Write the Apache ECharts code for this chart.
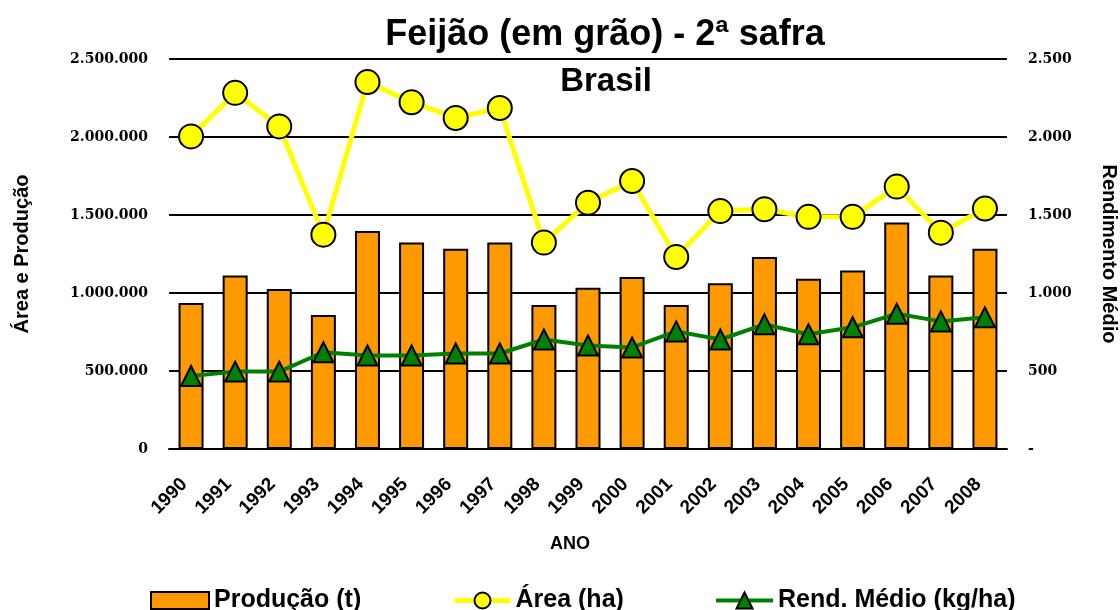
<!DOCTYPE html>
<html>
<head>
<meta charset="utf-8">
<script src="https://cdn.jsdelivr.net/npm/echarts@6/dist/echarts.min.js"></script>
<style>
  html, body { margin: 0; padding: 0; background: #fff; }
  #chart { width: 1120px; height: 610px; }
</style>
</head>
<body>
<div id="chart"></div>
<script>
// dados
var anos = ["1990", "1991", "1992", "1993", "1994", "1995", "1996", "1997", "1998", "1999",
  "2000", "2001", "2002", "2003", "2004", "2005", "2006", "2007", "2008"];
var producao = [936000, 1112000, 1026000, 859000, 1398000, 1323000, 1284000, 1323000, 923000, 1033000,
  1102000, 923000, 1063000, 1231000, 1091000, 1144000, 1452000, 1112000, 1284000];
var area = [2004000, 2283000, 2068000, 1374000, 2352000, 2223000, 2122000, 2186000, 1323000, 1579000,
  1718000, 1231000, 1525000, 1537000, 1488000, 1488000, 1682000, 1387000, 1542000];
var rendimento = [468, 496, 496, 620, 599, 599, 612, 612, 702, 663,
  651, 754, 702, 799, 736, 780, 867, 818, 844];

var fonte = "Liberation Sans, Arial, sans-serif";
var fonteNum = "DejaVu Serif, serif";

// separador de milhar com ponto
function milhar(v) {
  return String(v).replace(/\B(?=(\d{3})+(?!\d))/g, ".");
}

var legendaTexto = { fontFamily: fonte, fontWeight: "bold", fontSize: 25, color: "#000" };

var myChart = echarts.init(document.getElementById("chart"));
myChart.setOption({
  animation: false,
  backgroundColor: "#fff",
  title: [
    {
      text: "Feijão (em grão) - 2ª safra",
      left: 600,
      top: 12,
      textAlign: "center",
      textStyle: { fontFamily: fonte, fontWeight: "bold", fontSize: 36, color: "#000" }
    },
    {
      text: "Brasil",
      left: 601,
      top: 60,
      textAlign: "center",
      textStyle: { fontFamily: fonte, fontWeight: "bold", fontSize: 33, color: "#000" }
    }
  ],
  grid: { left: 169, right: 113, top: 59, bottom: 161, outerBoundsMode: "none" },
  legend: [
    {
      data: [{ name: "Produção (t)", icon: "rect" }], left: 150, top: 588, padding: 0,
      itemWidth: 58, itemHeight: 17,
      itemStyle: { borderColor: "#000", borderWidth: 2 },
      textStyle: legendaTexto
    },
    {
      data: ["Área (ha)"], left: 452, top: 588, padding: 0, itemWidth: 56, itemHeight: 20,
      lineStyle: { width: 5 },
      textStyle: legendaTexto
    },
    {
      data: ["Rend. Médio (kg/ha)"], left: 714, top: 588, padding: 0, itemWidth: 57, itemHeight: 20,
      lineStyle: { width: 4 },
      textStyle: legendaTexto
    }
  ],
  xAxis: {
    type: "category",
    data: anos,
    boundaryGap: true,
    name: "ANO",
    nameLocation: "middle",
    nameGap: 86,
    nameTextStyle: { fontFamily: fonte, fontWeight: "bold", fontSize: 18, color: "#000", padding: [0, 36, 0, 0] },
    axisLine: { show: true, lineStyle: { color: "#000", width: 2 } },
    axisTick: { show: false },
    axisLabel: {
      interval: 0,
      rotate: 45,
      margin: 39,
      verticalAlign: "bottom",
      fontFamily: fonte,
      fontWeight: "bold",
      fontSize: 19,
      color: "#000"
    }
  },
  yAxis: [
    {
      type: "value",
      min: 0,
      max: 2500000,
      interval: 500000,
      name: "Área e Produção",
      nameLocation: "middle",
      nameRotate: 90,
      nameGap: 137,
      nameTextStyle: { fontFamily: fonte, fontWeight: "bold", fontSize: 20, color: "#000" },
      axisLine: { show: false },
      axisTick: { show: false },
      splitLine: { show: true, lineStyle: { color: "#000", width: 2 } },
      axisLabel: {
        margin: 21,
        fontFamily: fonteNum,
        fontWeight: "bold",
        fontSize: 14,
        color: "#000",
        formatter: function (v) { return milhar(v); }
      }
    },
    {
      type: "value",
      min: 0,
      max: 2500,
      interval: 500,
      name: "Rendimento Médio",
      nameLocation: "middle",
      nameRotate: -90,
      nameGap: 92,
      nameTextStyle: { fontFamily: fonte, fontWeight: "bold", fontSize: 20, color: "#000" },
      axisLine: { show: false },
      axisTick: { show: false },
      splitLine: { show: false },
      axisLabel: {
        margin: 21,
        fontFamily: fonteNum,
        fontWeight: "bold",
        fontSize: 14,
        color: "#000",
        formatter: function (v) { return v === 0 ? "-" : milhar(v); }
      }
    }
  ],
  series: [
    {
      name: "Produção (t)",
      type: "bar",
      yAxisIndex: 0,
      barWidth: 25,
      itemStyle: { color: "#FF9900", borderColor: "#000", borderWidth: 2 },
      data: producao,
      z: 2
    },
    {
      name: "Rend. Médio (kg/ha)",
      type: "line",
      yAxisIndex: 1,
      symbol: "triangle",
      symbolSize: 20,
      lineStyle: { color: "#008000", width: 4 },
      itemStyle: { color: "#008000", borderColor: "#000", borderWidth: 2 },
      data: rendimento,
      z: 3
    },
    {
      name: "Área (ha)",
      type: "line",
      yAxisIndex: 0,
      symbol: "circle",
      symbolSize: 24,
      lineStyle: { color: "#FFFF00", width: 5 },
      itemStyle: { color: "#FFFF00", borderColor: "#000", borderWidth: 2 },
      data: area,
      z: 4
    }
  ]
});
</script>
</body>
</html>
